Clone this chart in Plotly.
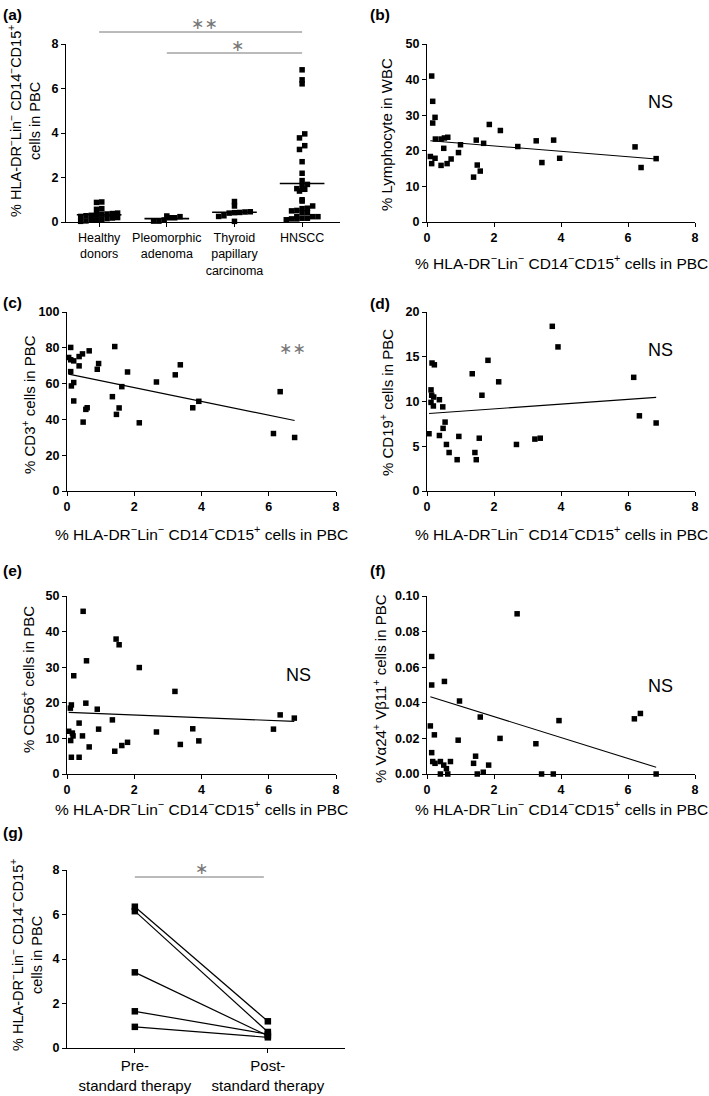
import numpy as np
import plotly.graph_objects as go

W, H = 709, 1096
FONT = "Liberation Sans, Arial, sans-serif"

# ---------------- data ----------------
groups_a = ["Healthy<br>donors", "Pleomorphic<br>adenoma", "Thyroid<br>papillary<br>carcinoma", "HNSCC"]
healthy = [0.9, 0.88, 0.6, 0.57, 0.4, 0.38, 0.36, 0.35, 0.33, 0.3, 0.28, 0.25,
           0.2, 0.18, 0.15, 0.12, 0.1, 0.08, 0.05, 0.03]
pleomorphic = [0.27, 0.19, 0.09, 0.04, 0.04, 0.19, 0.24]
thyroid = [0.92, 0.72, 0.45, 0.43, 0.42, 0.4, 0.46, 0.28, 0.25, 0.03]
hnscc = [0.14, 0.17, 0.24, 0.17, 0.25, 0.42, 0.52, 0.62, 0.10, 0.14, 0.24, 0.42, 0.50,
         0.60, 0.72, 0.94, 1.0, 1.39, 1.47, 1.50, 1.59, 1.69, 1.86, 2.19, 2.71, 3.26,
         3.43, 3.78, 3.96, 6.21, 6.39, 6.84]

b_x = [0.14, 0.17, 0.24, 0.17, 0.25, 0.42, 0.52, 0.62, 0.10, 0.14, 0.24, 0.42, 0.50, 0.60,
       0.72, 0.94, 1.0, 1.39, 1.47, 1.50, 1.59, 1.69, 1.86, 2.19, 2.71, 3.26, 3.43, 3.78,
       3.96, 6.21, 6.39, 6.84]
b_y = [41.0, 33.9, 29.4, 27.8, 23.3, 23.3, 23.6, 23.8, 18.4, 16.4, 17.9, 15.9, 20.7, 16.4,
       17.7, 19.5, 21.7, 12.6, 23.0, 16.0, 14.3, 22.1, 27.4, 25.7, 21.2, 22.8, 16.7, 23.0,
       17.9, 21.1, 15.3, 17.8]
b_fit = (22.9, -0.76)

c_x = [0.05, 0.11, 0.11, 0.2, 0.11, 0.13, 0.2, 0.2, 0.36, 0.36, 0.46, 0.48, 0.56, 0.6,
       0.66, 0.9, 0.94, 1.35, 1.42, 1.47, 1.55, 1.63, 1.8, 2.15, 2.66, 3.22, 3.37, 3.74,
       3.92, 6.14, 6.34, 6.77]
c_y = [74.6, 80.2, 73.3, 72.7, 66.7, 58.7, 60.6, 50.3, 75.1, 69.9, 76.6, 38.5, 45.6, 46.5,
       78.3, 68.0, 71.2, 52.7, 80.7, 42.8, 46.4, 58.3, 66.5, 38.1, 60.9, 64.9, 70.5, 46.5,
       50.1, 32.1, 55.5, 29.9]
c_fit = (65.5, -3.86)

d_x = [0.06, 0.12, 0.14, 0.2, 0.12, 0.19, 0.15, 0.22, 0.37, 0.47, 0.37, 0.48, 0.54, 0.58,
       0.66, 0.90, 0.95, 1.35, 1.43, 1.47, 1.56, 1.64, 1.82, 2.14, 2.67, 3.22, 3.38, 3.74,
       3.91, 6.17, 6.34, 6.84]
d_y = [6.4, 11.3, 10.7, 10.5, 9.9, 9.5, 14.3, 14.1, 10.2, 9.4, 6.2, 7.0, 7.7, 5.2, 4.3, 3.5,
       6.1, 13.1, 4.3, 3.5, 5.9, 10.7, 14.6, 12.2, 5.2, 5.8, 5.9, 18.4, 16.1, 12.7, 8.4, 7.6]
d_fit = (8.64, 0.266)

e_x = [0.05, 0.1, 0.13, 0.11, 0.13, 0.16, 0.18, 0.2, 0.36, 0.36, 0.46, 0.48, 0.56, 0.58,
       0.66, 0.9, 0.94, 1.35, 1.42, 1.46, 1.55, 1.63, 1.8, 2.15, 2.66, 3.21, 3.37, 3.74,
       3.92, 6.14, 6.34, 6.76]
e_y = [12.0, 18.5, 19.4, 9.4, 4.7, 11.5, 10.7, 27.6, 4.7, 14.3, 10.7, 45.7, 19.9, 31.8,
       7.6, 18.2, 12.6, 15.2, 6.4, 37.9, 36.3, 8.0, 8.9, 29.9, 11.8, 23.2, 8.3, 12.7, 9.3,
       12.6, 16.6, 15.7]
e_fit = (17.32, -0.375)

f_x = [0.10, 0.14, 0.14, 0.14, 0.17, 0.22, 0.24, 0.4, 0.4, 0.5, 0.52, 0.58, 0.62, 0.7,
       0.93, 0.97, 1.39, 1.45, 1.5, 1.59, 1.68, 1.84, 2.18, 2.69, 3.25, 3.42, 3.77, 3.94,
       6.19, 6.37, 6.84]
f_y = [0.027, 0.066, 0.050, 0.012, 0.007, 0.022, 0.006, 0.007, 0.0, 0.005, 0.052, 0.003,
       0.0, 0.007, 0.019, 0.041, 0.006, 0.010, 0.0, 0.032, 0.001, 0.005, 0.020, 0.090,
       0.017, 0.0, 0.0, 0.030, 0.031, 0.034, 0.0]
f_fit = (0.0440, -0.00588)

groups_g = ["Pre-<br>standard therapy", "Post-<br>standard therapy"]
g_pre = [6.35, 6.15, 3.4, 1.65, 0.95]
g_post = [1.2, 0.72, 0.55, 0.62, 0.48]

xtitle = "% HLA-DR<sup>−</sup>Lin<sup>−</sup> CD14<sup>−</sup>CD15<sup>+</sup> cells in PBC"
ytitle_mdsc = "% HLA-DR<sup>−</sup>Lin<sup>−</sup> CD14<sup>−</sup>CD15<sup>+</sup><br>cells in PBC"

# ---------------- helpers ----------------
def fx(px):
    return px / W

def fy(py):
    return 1 - py / H

def swarm(vals, center, bin_w=0.25, step=0.078):
    v = np.asarray(vals, dtype=float)
    bins = np.floor(v / bin_w).astype(int)
    xs = np.zeros(len(v))
    for b in np.unique(bins):
        idx = np.where(bins == b)[0]
        idx = idx[np.argsort(v[idx])]
        n = len(idx)
        for k, i in enumerate(idx):
            xs[i] = center + (k - (n - 1) / 2) * step
    return xs.tolist()

fig = go.Figure()
fig.update_layout(template="none")

TITLE_SIZE = 15.5

axis_common = dict(showline=True, linecolor="black", linewidth=1.3, ticks="outside",
                   ticklen=4, tickwidth=1.3, tickcolor="black", showgrid=False,
                   zeroline=False, mirror=False, automargin=False,
                   tickfont=dict(family=FONT, size=12.5, color="black", weight="bold"))

# panel geometry in pixels: (x0, x1, ytop, ybottom)
panels = {
    "a": (66, 340, 44, 222),
    "b": (427, 695, 44, 222),
    "c": (67, 336, 312, 491),
    "d": (427, 695, 312, 491),
    "e": (67, 336, 596, 774),
    "f": (427, 695, 596, 774),
    "g": (67, 345, 870, 1048),
}
ids = {"a": "", "b": "2", "c": "3", "d": "4", "e": "5", "f": "6", "g": "7"}
yranges = {"a": (0, 8, 2), "b": (0, 50, 10), "c": (0, 100, 20), "d": (0, 20, 5),
           "e": (0, 50, 10), "f": (0, 0.1, 0.02), "g": (0, 8, 2)}

for p, (x0, x1, yt, yb) in panels.items():
    i = ids[p]
    xa = dict(axis_common, domain=[fx(x0), fx(x1)], anchor="y" + i)
    if p == "a":
        xa.update(range=[-0.49, 3.56], tickvals=[0, 1, 2, 3], ticktext=groups_a,
                  tickfont=dict(family=FONT, size=12.5, color="black"))
    elif p == "g":
        xa.update(range=[-0.51, 1.58], tickvals=[0, 1], ticktext=groups_g,
                  tickfont=dict(family=FONT, size=15, color="black"))
    else:
        xa.update(range=[0, 8], tickvals=[0, 2, 4, 6, 8])
    lo, hi, dt = yranges[p]
    ya = dict(axis_common, domain=[fy(yb), fy(yt)], anchor="x" + i, range=[lo, hi],
              tickvals=[float(v) for v in np.round(np.arange(lo, hi + dt / 2, dt), 4)])
    if p == "f":
        ya.update(tickformat=".2f")
    fig.update_layout(**{"xaxis" + i: xa, "yaxis" + i: ya})

mk = dict(symbol="square", size=5.5, color="black", line=dict(width=0))

# ---- panel (a) ----
for gi, vals in enumerate([healthy, pleomorphic, thyroid, hnscc]):
    fig.add_trace(go.Scatter(x=swarm(vals, gi), y=vals, mode="markers", marker=mk,
                             cliponaxis=False, showlegend=False, xaxis="x", yaxis="y"))
    m = float(np.mean(vals))
    fig.add_trace(go.Scatter(x=[gi - 0.33, gi + 0.33], y=[m, m], mode="lines",
                             line=dict(color="black", width=1.6), showlegend=False,
                             xaxis="x", yaxis="y"))

ann = []
shapes = []

# significance bars: (start group, end group, bar pixel row, label)
sig_a = [(0, 3, 32, "∗∗"), (1, 3, 53, "∗")]
for s0, s1, row, txt in sig_a:
    shapes.append(dict(type="line", xref="x", yref="paper", x0=s0, x1=s1,
                       y0=fy(row), y1=fy(row), line=dict(color="#777", width=1)))
    ann.append(dict(x=(s0 + s1) / 2 + 0.05, y=fy(row - 8), xref="x", yref="paper", text=txt,
                    showarrow=False, yanchor="middle",
                    font=dict(family="DejaVu Sans", size=16, color="#777")))

# ---- scatter panels ----
scat = {"b": (b_x, b_y, b_fit), "c": (c_x, c_y, c_fit), "d": (d_x, d_y, d_fit),
        "e": (e_x, e_y, e_fit), "f": (f_x, f_y, f_fit)}
for p, (xs, ys, (b0, b1)) in scat.items():
    i = ids[p]
    fig.add_trace(go.Scatter(x=xs, y=ys, mode="markers", marker=mk, cliponaxis=False,
                             showlegend=False, xaxis="x" + i, yaxis="y" + i))
    xl = [min(xs), max(xs)]
    fig.add_trace(go.Scatter(x=xl, y=[b0 + b1 * v for v in xl], mode="lines",
                             line=dict(color="black", width=1.1), showlegend=False,
                             xaxis="x" + i, yaxis="y" + i))

# ---- panel (g) ----
for pre, post in zip(g_pre, g_post):
    fig.add_trace(go.Scatter(x=[0, 1], y=[pre, post], mode="lines+markers",
                             line=dict(color="black", width=1.2),
                             marker=dict(symbol="square", size=6.5, color="black"),
                             cliponaxis=False, showlegend=False, xaxis="x7", yaxis="y7"))
shapes.append(dict(type="line", xref="x7", yref="paper", x0=0, x1=0.97,
                   y0=fy(877), y1=fy(877), line=dict(color="#777", width=1)))
ann.append(dict(x=0.5, y=fy(868), xref="x7", yref="paper", text="∗", showarrow=False,
                yanchor="middle", font=dict(family="DejaVu Sans", size=16, color="#777")))

# ---------------- text annotations ----------------
def text(x, y, t, size=TITLE_SIZE, angle=0, bold=False, color="black", xanchor="center", family=FONT):
    ann.append(dict(x=fx(x), y=fy(y), xref="paper", yref="paper", text=t, showarrow=False,
                    textangle=angle, xanchor=xanchor, yanchor="middle",
                    font=dict(family=family, size=size, color=color,
                              weight="bold" if bold else "normal")))

# panel labels
for lab, (x, y) in {"(a)": (1, 14), "(b)": (368, 14), "(c)": (1, 302), "(d)": (368, 303),
                    "(e)": (1, 570), "(f)": (368, 570), "(g)": (1, 832)}.items():
    text(x, y, lab, size=15.5, bold=True, xanchor="left")

# y titles
text(24, 121, ytitle_mdsc, size=14.5, angle=-90)
text(386, 135, "% Lymphocyte in WBC", size=15, angle=-90)
text(28, 405, "% CD3<sup>+</sup> cells in PBC", size=15, angle=-90)
text(386, 403, "% CD19<sup>+</sup> cells in PBC", size=15, angle=-90)
text(27, 680, "% CD56<sup>+</sup> cells in PBC", size=15, angle=-90)
text(379, 688, "% Vα24<sup>+</sup> Vβ11<sup>+</sup> cells in PBC", size=15, angle=-90)
text(26, 955, ytitle_mdsc, size=14.5, angle=-90)

# x titles
text(561, 262, xtitle)
text(201, 533, xtitle)
text(561, 533, xtitle)
text(201, 808, xtitle)
text(561, 808, xtitle)

# NS / significance labels in data coordinates
for ref, xv, yv, t, fam, col in [("2", 6.96, 33.7, "NS", FONT, "black"),
                                 ("3", 6.7, 79.5, "∗∗", "DejaVu Sans", "#777"),
                                 ("4", 6.96, 15.8, "NS", FONT, "black"),
                                 ("5", 6.88, 27.8, "NS", FONT, "black"),
                                 ("6", 6.96, 0.0495, "NS", FONT, "black")]:
    ann.append(dict(x=xv, y=yv, xref="x" + ref, yref="y" + ref, text=t, showarrow=False,
                    font=dict(family=fam, size=18 if t == "NS" else 16, color=col)))

fig.update_layout(annotations=ann, shapes=shapes)

fig.update_layout(width=W, height=H, margin=dict(l=0, r=0, t=0, b=0, pad=0),
                  paper_bgcolor="white", plot_bgcolor="white", showlegend=False,
                  font=dict(family=FONT, color="black"))

# remove the default page margin so the figure sits at the window origin
fig.write_html("out.html", config={"displayModeBar": False},
               post_script="document.body.style.margin='0px';")
